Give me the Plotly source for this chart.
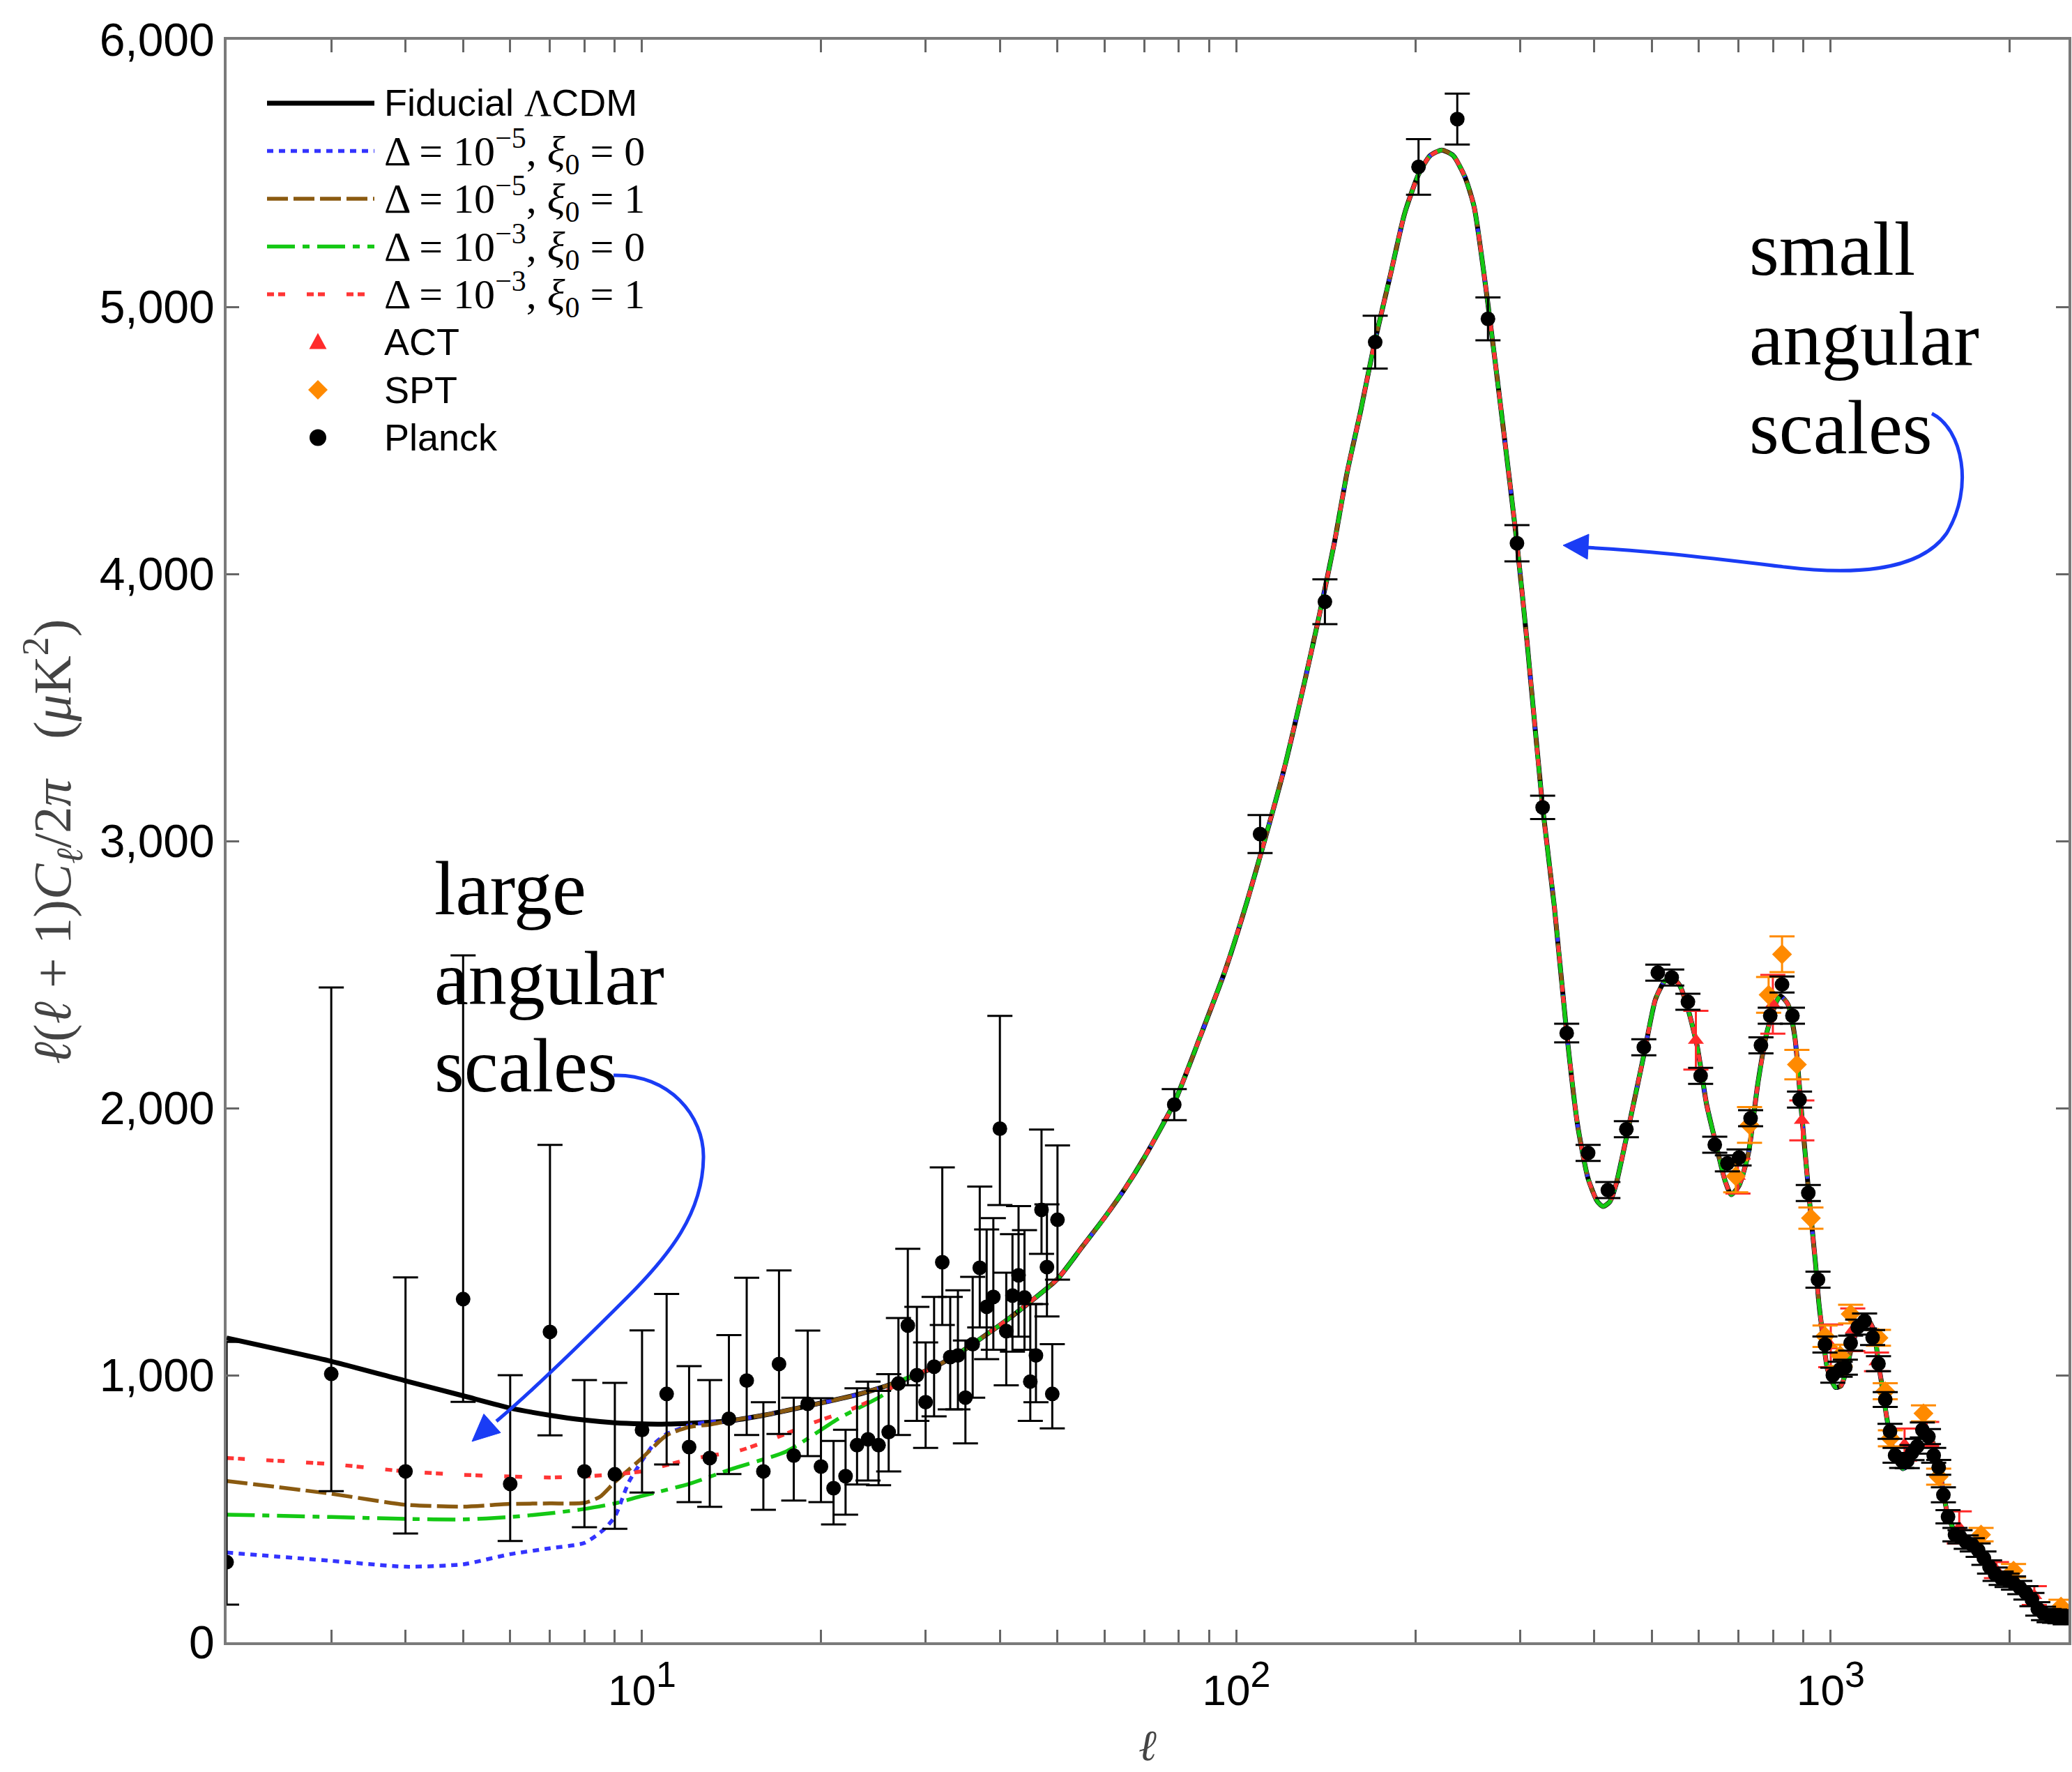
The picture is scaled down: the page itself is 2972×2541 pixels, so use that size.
import plotly.graph_objects as go

# ------------------------------------------------------------------
# Theory spectra  D_ell = ell(ell+1)C_ell/2pi  [muK^2]
# ------------------------------------------------------------------
# Fiducial LCDM at large angular scales (ell < 50)
ell_lcdm_low = [2, 3, 4, 5, 6, 7, 8, 9, 10, 11, 12, 14, 16, 19, 23, 27, 31, 34, 37, 41, 45]
dl_lcdm_low = [1139, 1052, 979, 923, 877, 850, 832, 822, 818, 817, 820, 829, 850, 885,
               927, 975, 1030, 1080, 1135, 1205, 1275]

# Acoustic region, shared by every model (ell >= 50)
ell_acoustic = [50, 55, 60, 65, 70, 78.6, 87, 95.8, 104.3, 112, 120.5, 129.6, 137.6, 146.1,
                153.4, 162, 170.6, 181.7, 191.8, 202.5, 211.8, 221.6, 231.7, 242.3, 251.2,
                265, 280, 296.5, 308.5, 327.5, 342.7, 359.5, 375, 390.6, 405, 414, 425,
                434.7, 463, 484.7, 507, 525.6, 540, 557, 575, 596, 618, 638, 664, 680, 701,
                727, 754, 781, 810, 823, 847, 870, 894, 918, 943, 955, 970, 987.5, 1018,
                1040, 1060, 1080, 1119, 1150, 1182, 1203, 1224, 1239, 1258, 1283, 1322,
                1361, 1398, 1436, 1475, 1519, 1547, 1575, 1618, 1677, 1754, 1835, 1920,
                2008, 2101, 2198, 2299, 2404, 2513]
dl_acoustic = [1360, 1480, 1590, 1700, 1815, 2020, 2270, 2517, 2776, 3016, 3276, 3575, 3836,
               4115, 4375, 4615, 4861, 5122, 5348, 5496, 5566, 5587, 5566, 5487, 5374, 5010,
               4580, 4115, 3740, 3126, 2755, 2281, 1937, 1736, 1650, 1632, 1650, 1710, 1989,
               2198, 2407, 2476, 2490, 2459, 2372, 2232, 2015, 1884, 1728, 1676, 1710, 1832,
               2093, 2285, 2398, 2420, 2389, 2267, 1971, 1684, 1414, 1270, 1146, 1022, 955,
               960, 1010, 1090, 1195, 1213, 1167, 1043, 940, 857, 774, 692, 650, 671, 744,
               795, 765, 671, 557, 475, 413, 382, 356, 300, 248, 227, 196, 145, 103, 93, 88]

# Large-scale tails of the modified models (they rejoin LCDM afterwards)
ell_d5_x0 = [2, 3, 4, 5, 6, 7, 8, 8.6, 9, 9.5, 10, 10.5, 11, 12, 13]
dl_d5_x0 = [336, 305, 283, 292, 330, 352, 372, 420, 470, 600, 680, 745, 780, 812, 825]

ell_d5_x1 = [2, 3, 4, 5, 6, 7, 8, 8.5, 9, 10, 11, 12, 13]
dl_d5_x1 = [604, 556, 515, 508, 518, 520, 522, 545, 600, 690, 775, 806, 815]

ell_d3_x0 = [2, 3, 4, 5, 6, 7, 8, 9, 10, 12, 14.2, 17.5, 21.5, 25.4]
dl_d3_x0 = [478, 469, 462, 460, 469, 483, 499, 520, 548, 593, 650, 715, 840, 925]

ell_d3_x1 = [2, 3, 4, 5, 6, 7, 8, 9, 10, 12, 14.6, 16.8, 19.4, 22.4, 25.4]
dl_d3_x1 = [690, 667, 640, 627, 621, 617, 621, 629, 640, 685, 718, 766, 822, 871, 927]

# ------------------------------------------------------------------
# Measurements
# ------------------------------------------------------------------
# Planck low-ell (unbinned), with upper / lower ends of the error bars
ell_planck_low = [2, 3, 4, 5, 6, 7, 8, 9, 10, 11, 12, 13, 14, 15, 16, 17, 18, 19, 20, 21,
                  22, 23, 24, 25, 26, 27, 28, 29, 30, 31, 32, 33, 34, 35, 36, 37, 38, 39,
                  40, 41, 42, 43, 44, 45, 46, 47, 48, 49, 50]
dl_planck_low = [300, 1005, 640, 1285, 593, 1162, 640, 629, 795, 930, 731, 690, 837, 980,
                 640, 1042, 699, 893, 658, 577, 622, 738, 760, 738, 787, 969, 1186, 1000,
                 899, 1032, 1423, 1068, 1074, 916, 1116, 1402, 1256, 1293, 1923, 1165, 1298,
                 1374, 1291, 976, 1074, 1619, 1405, 930, 1582]
top_planck_low = [1125, 2452, 1366, 2572, 1000, 1862, 982, 971, 1168, 1304, 1034, 982, 1150,
                  1365, 899, 1392, 916, 1167, 914, 754, 796, 951, 976, 941, 1004, 1214, 1473,
                  1256, 1123, 1293, 1778, 1293, 1318, 1130, 1368, 1706, 1546, 1588, 2345,
                  1384, 1528, 1633, 1543, 1266, 1266, 1920, 1640, 1116, 1860]
bot_planck_low = [141, 566, 407, 900, 379, 775, 431, 425, 561, 666, 525, 507, 630, 776, 496,
                  780, 531, 697, 525, 441, 478, 591, 606, 588, 640, 776, 962, 829, 728, 846,
                  1188, 872, 872, 745, 916, 1179, 1060, 1095, 1637, 962, 1088, 1144, 1095,
                  829, 899, 1454, 1220, 801, 1358]

# Planck binned high-ell
ell_planck_hi = [78.6, 109.6, 140.9, 171.2, 202.5, 235.3, 265, 296.5, 327.5, 359.5, 390.6,
                 421.7, 453, 484.7, 511.7, 540, 575, 604, 638, 670, 701, 733, 763, 791, 828,
                 862, 886, 916.6, 951.7, 977.7, 1008, 1037, 1058, 1080, 1110, 1140, 1176,
                 1203, 1235, 1258, 1283, 1316, 1345, 1370, 1398, 1426, 1460, 1490, 1519,
                 1547, 1575, 1618, 1650, 1690, 1730, 1770, 1810, 1850, 1890, 1935, 1980,
                 2030, 2080, 2130, 2180, 2230, 2280, 2330, 2380, 2430, 2480]
dl_planck_hi = [2013, 3026, 3896, 4868, 5524, 5703, 4955, 4115, 3126, 2281, 1832, 1693, 1921,
                2228, 2507, 2489, 2398, 2121, 1863, 1793, 1815, 1962, 2235, 2346, 2463, 2346,
                2032, 1682, 1358, 1115, 1000, 1022, 1030, 1120, 1180, 1203, 1141, 1043, 909,
                790, 700, 681, 680, 710, 734, 795, 770, 700, 655, 552, 470, 403, 395, 375,
                365, 345, 315, 282, 255, 240, 232, 222, 205, 185, 160, 125, 108, 100, 98, 96,
                92]
err_planck_hi = [58, 71, 84, 99, 104, 95, 80, 68, 44, 35,
                 30, 30, 30, 30, 30, 30, 30, 30, 30, 30,
                 30, 30, 30, 30, 30, 30, 30, 30, 30, 30,
                 28, 28, 28, 28, 28, 28, 28, 28, 28, 28,
                 28, 28, 28, 28, 28, 28, 28, 28, 28, 28,
                 25, 25, 25, 25, 25, 25, 25, 25, 25, 25,
                 25, 25, 25, 25, 25, 25, 25, 25, 25, 25, 25]

ell_act = [593, 698, 799, 894, 1000, 1089, 1194, 1331, 1450, 1645, 1900, 2200]
dl_act = [2254, 1745, 2389, 1954, 1110, 1170, 1050, 740, 780, 430, 270, 175]
err_act = [110, 65, 110, 75, 80, 80, 35, 60, 45, 60, 30, 35]

ell_spt = [692, 730, 786, 828, 877, 926, 978, 1037, 1080, 1203, 1235, 1260, 1432, 1519,
           1790, 2030, 2440]
dl_spt = [1745, 1937, 2424, 2576, 2163, 1588, 1146, 1074, 1229, 1140, 940, 764, 857, 620,
          403, 268, 134]
err_spt = [60, 67, 67, 67, 55, 40, 40, 40, 35, 30, 30, 30, 30, 30, 25, 25, 25]

y_ticks = [0, 1000, 2000, 3000, 4000, 5000, 6000]
x_decades = [10, 100, 1000]
x_decade_labels = ["10<sup>1</sup>", "10<sup>2</sup>", "10<sup>3</sup>"]
x_minor = [3, 4, 5, 6, 7, 8, 9, 20, 30, 40, 50, 60, 70, 80, 90,
           200, 300, 400, 500, 600, 700, 800, 900, 2000]

# ------------------------------------------------------------------
# Canvas geometry (pixels)
# ------------------------------------------------------------------
W, H = 2972, 2541
ML, MR, MT, MB = 325, 5, 57, 186
PW, PH = W - ML - MR, H - MT - MB


def px(x):
    return (x - ML) / PW


def py(y):
    return (MT + PH - y) / PH


def full_curve(ell_tail, dl_tail):
    """Model tail at large scales, then LCDM, then the acoustic region."""
    ells = list(ell_tail) + [l for l in ell_lcdm_low if l > ell_tail[-1]] + ell_acoustic
    dls = list(dl_tail) + [d for l, d in zip(ell_lcdm_low, dl_lcdm_low) if l > ell_tail[-1]] + dl_acoustic
    return ells, dls


SERIF = "Liberation Serif, DejaVu Serif, serif"
SANS = "Liberation Sans, Arial, sans-serif"
NB = "\u00a0"

# line styles: (color, width, dash)
STYLE_LCDM = ("black", 7, "solid")
models = [
    (ell_d5_x0, dl_d5_x0, ("#3434ff", 5.5, "9px,8px"), "Δ = 10<sup>−5</sup>, <i>ξ</i><sub>0</sub> = 0"),
    (ell_d5_x1, dl_d5_x1, ("#8a5a10", 5.5, "30px,8px"), "Δ = 10<sup>−5</sup>, <i>ξ</i><sub>0</sub> = 1"),
    (ell_d3_x0, dl_d3_x0, ("#14c814", 5.5, "40px,11px,10px,11px"), "Δ = 10<sup>−3</sup>, <i>ξ</i><sub>0</sub> = 0"),
    (ell_d3_x1, dl_d3_x1, ("#ff3535", 5.5, "10px,6px,10px,31px"), "Δ = 10<sup>−3</sup>, <i>ξ</i><sub>0</sub> = 1"),
]
ACT_COL, SPT_COL = "#ff2a2a", "#ff8a00"

fig = go.Figure()

lcdm_x, lcdm_y = full_curve(ell_lcdm_low[:1], dl_lcdm_low[:1])
fig.add_trace(go.Scatter(x=lcdm_x, y=lcdm_y, mode="lines", name="Fiducial ΛCDM",
                         line=dict(color=STYLE_LCDM[0], width=STYLE_LCDM[1],
                                   shape="spline", smoothing=0.6)))

for ell_t, dl_t, (col, lw, dash), label in models:
    xs, ys = full_curve(ell_t, dl_t)
    fig.add_trace(go.Scatter(x=xs, y=ys, mode="lines", name=label,
                             line=dict(color=col, width=lw, dash=dash, shape="spline",
                                       smoothing=0.6)))

fig.add_trace(go.Scatter(
    x=ell_act, y=dl_act, mode="markers", name="ACT",
    marker=dict(symbol="triangle-up", size=20, color=ACT_COL),
    error_y=dict(type="data", array=err_act, color=ACT_COL, thickness=3, width=18)))

fig.add_trace(go.Scatter(
    x=ell_spt, y=dl_spt, mode="markers", name="SPT",
    marker=dict(symbol="diamond", size=22, color=SPT_COL),
    error_y=dict(type="data", array=err_spt, color=SPT_COL, thickness=3, width=18)))

planck_x = ell_planck_low + ell_planck_hi
planck_y = dl_planck_low + dl_planck_hi
planck_up = [t - d for t, d in zip(top_planck_low, dl_planck_low)] + err_planck_hi
planck_dn = [d - b for b, d in zip(bot_planck_low, dl_planck_low)] + err_planck_hi
fig.add_trace(go.Scatter(
    x=planck_x, y=planck_y, mode="markers", name="Planck",
    marker=dict(symbol="circle", size=21, color="black"),
    error_y=dict(type="data", symmetric=False, array=planck_up, arrayminus=planck_dn,
                 color="black", thickness=3, width=18)))

# ------------------------------------------------------------------
# Axes
# ------------------------------------------------------------------
tick_style = dict(ticks="inside", ticklen=18, tickwidth=2.5, tickcolor="#666")
axis_common = dict(showline=True, linewidth=4, linecolor="#7a7a7a", mirror="allticks",
                   showgrid=False, zeroline=False, **tick_style)

x_labels = [lab.replace("<sup>", '<sup><span style="font-size:52px">').replace("</sup>", "</span></sup>")
            for lab in x_decade_labels]
fig.update_xaxes(type="log", range=[0.301, 3.4], tickmode="array", tickvals=x_decades,
                 ticktext=x_labels, ticklabelstandoff=12,
                 tickfont=dict(family=SANS, size=62, color="black"),
                 minor=dict(tickmode="array", tickvals=x_minor, showgrid=False, **tick_style),
                 **axis_common)
fig.update_yaxes(range=[0, 6000], tickmode="array", tickvals=y_ticks, tickformat=",d",
                 tickfont=dict(family=SANS, size=66, color="black"), **axis_common)

# ------------------------------------------------------------------
# Annotations: axis titles and scale labels
# ------------------------------------------------------------------
ann = []
ytitle = ("<i>ℓ</i>(<i>ℓ</i>" + NB + "+" + NB + "1)<i>C</i><sub><i>ℓ</i></sub>/2<i>π</i>"
          + NB * 3 + "(<i>μ</i>K<sup>2</sup>)")
ann.append(dict(xref="paper", yref="paper", x=px(75), y=py(1207), textangle=-90,
                text=ytitle, showarrow=False, xanchor="center", yanchor="middle",
                font=dict(family=SERIF, size=77, color="#444")))
ann.append(dict(xref="paper", yref="paper", x=px(1646), y=py(2539), text="<i>ℓ</i>",
                showarrow=False, xanchor="center", yanchor="bottom",
                font=dict(family=SERIF, size=62, color="#444")))

for words, x0, ys in [(["small", "angular", "scales"], 2507, [357, 486, 613]),
                      (["large", "angular", "scales"], 621, [1274, 1403, 1528])]:
    for w, yy in zip(words, ys):
        ann.append(dict(xref="paper", yref="paper", x=px(x0), y=py(yy), text=w,
                        showarrow=False, xanchor="left", yanchor="middle",
                        font=dict(family=SERIF, size=110, color="black")))

# ------------------------------------------------------------------
# Shapes helpers (pixel geometry converted to paper coordinates)
# ------------------------------------------------------------------
BLUE = "#1a3cf5"


def path_from_px(segments):
    parts = []
    for cmd, pts in segments:
        parts.append(cmd + " " + " ".join("%.5f,%.5f" % (px(x), py(y)) for x, y in pts))
    return " ".join(parts)


def arrow_head(tip, base, half):
    tx, ty = tip
    bx, by = base
    dx, dy = bx - tx, by - ty
    n = (dx * dx + dy * dy) ** 0.5
    nx, ny = -dy / n * half, dx / n * half
    return path_from_px([("M", [tip]), ("L", [(bx + nx, by + ny)]),
                         ("L", [(bx - nx, by - ny)])]) + " Z"


shapes = []
arrow_small = [("M", [(2771, 593)]),
               ("C", [(2815, 615), (2832, 700), (2792, 765)]),
               ("C", [(2752, 822), (2650, 824), (2560, 813)]),
               ("C", [(2450, 800), (2350, 788), (2272, 785)])]
arrow_large = [("M", [(880, 1542)]),
               ("C", [(960, 1540), (1010, 1600), (1009, 1660)]),
               ("C", [(1008, 1740), (960, 1800), (900, 1860)]),
               ("C", [(830, 1930), (760, 1998), (712, 2038)])]
for seg in (arrow_small, arrow_large):
    shapes.append(dict(type="path", xref="paper", yref="paper", path=path_from_px(seg),
                       line=dict(color=BLUE, width=5)))
shapes.append(dict(type="path", xref="paper", yref="paper",
                   path=arrow_head((2242, 782), (2278, 784), 18),
                   fillcolor=BLUE, line=dict(color=BLUE, width=1)))
shapes.append(dict(type="path", xref="paper", yref="paper",
                   path=arrow_head((677, 2067), (706, 2041), 18),
                   fillcolor=BLUE, line=dict(color=BLUE, width=1)))

# ------------------------------------------------------------------
# Legend (drawn by hand so symbols keep their plotted sizes)
# ------------------------------------------------------------------
LEG_ROWS = [148, 216.5, 285, 353.5, 422, 490.5, 559, 627.5]
LEG_LINE_X = (383, 537)
LEG_SYM_X = 456
LEG_TEXT_X = 549

line_entries = [(STYLE_LCDM, "Fiducial " + '<span style="font-family:%s">Λ</span>CDM' % SERIF, SANS, 54)]
for _, _, style, label in models:
    line_entries.append((style, label, SERIF, 60))

for row, ((col, lw, dash), label, fam, fs) in zip(LEG_ROWS, line_entries):
    shapes.append(dict(type="line", xref="paper", yref="paper",
                       x0=px(LEG_LINE_X[0]), x1=px(LEG_LINE_X[1]), y0=py(row), y1=py(row),
                       line=dict(color=col, width=lw, dash=dash)))
    ann.append(dict(xref="paper", yref="paper", x=px(LEG_TEXT_X), y=py(row), text=label,
                    showarrow=False, xanchor="left", yanchor="middle",
                    font=dict(family=fam, size=fs, color="black")))

# marker entries
r_act, r_spt, r_planck = LEG_ROWS[5], LEG_ROWS[6], LEG_ROWS[7]
cx = LEG_SYM_X
shapes.append(dict(type="path", xref="paper", yref="paper",
                   path=path_from_px([("M", [(cx, r_act - 13)]), ("L", [(cx + 12.5, r_act + 10)]),
                                      ("L", [(cx - 12.5, r_act + 10)])]) + " Z",
                   fillcolor=ACT_COL, line=dict(width=0)))
shapes.append(dict(type="path", xref="paper", yref="paper",
                   path=path_from_px([("M", [(cx, r_spt - 14)]), ("L", [(cx + 14, r_spt)]),
                                      ("L", [(cx, r_spt + 14)]), ("L", [(cx - 14, r_spt)])]) + " Z",
                   fillcolor=SPT_COL, line=dict(width=0)))
shapes.append(dict(type="circle", xref="paper", yref="paper",
                   x0=px(cx - 12), x1=px(cx + 12), y0=py(r_planck + 12), y1=py(r_planck - 12),
                   fillcolor="black", line=dict(width=0)))
for row, label in zip([r_act, r_spt, r_planck], ["ACT", "SPT", "Planck"]):
    ann.append(dict(xref="paper", yref="paper", x=px(LEG_TEXT_X), y=py(row), text=label,
                    showarrow=False, xanchor="left", yanchor="middle",
                    font=dict(family=SANS, size=54, color="black")))

fig.update_layout(
    width=W, height=H,
    margin=dict(l=ML, r=MR, t=MT, b=MB, autoexpand=False),
    paper_bgcolor="white", plot_bgcolor="white",
    annotations=ann, shapes=shapes,
    showlegend=False,
)

fig.write_html("out.html")
